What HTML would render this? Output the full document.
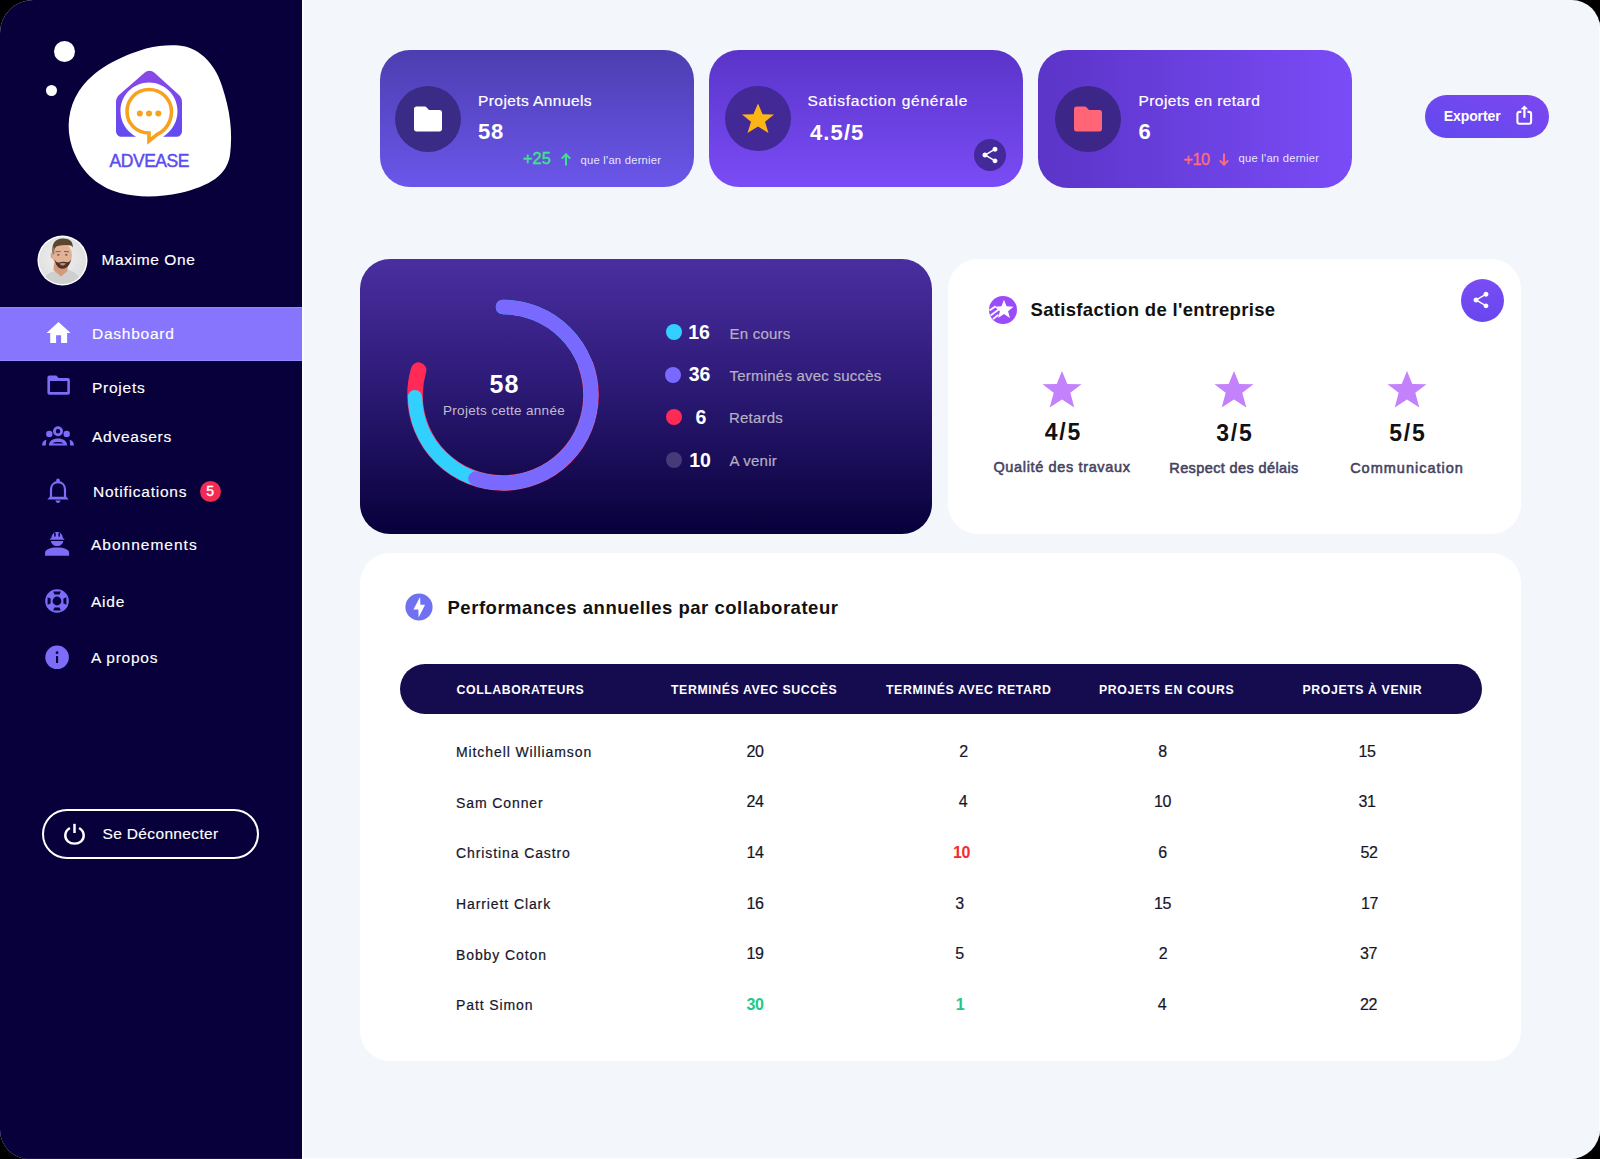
<!DOCTYPE html>
<html><head><meta charset="utf-8">
<style>
*{margin:0;padding:0;box-sizing:border-box}
html,body{width:1600px;height:1159px;background:#000;overflow:hidden}
body{font-family:"Liberation Sans",sans-serif;position:relative}
#app{position:absolute;left:0;top:0;width:1600px;height:1159px;border-radius:33px 28px 30px 29px;overflow:hidden;background:#f3f6fb}
.a{position:absolute;white-space:nowrap;line-height:1}
#side{position:absolute;left:0;top:0;width:302px;height:1159px;background:#07003a}
#sidestrip{position:absolute;left:302px;top:0;width:2px;height:1159px;background:#fbfcff}
.nav{color:#fff;font-size:15.5px;letter-spacing:0.75px;-webkit-text-stroke:0.15px #fff}
.card{position:absolute;border-radius:30px}
.ttl{color:#fff;font-size:15.5px;letter-spacing:0.42px;-webkit-text-stroke:0.2px #fff}
.num{color:#fff;font-size:22px;font-weight:bold;letter-spacing:0.8px}
.icirc{position:absolute;width:66px;height:66px;border-radius:50%;background:#3a2b86}
.lg{color:#b7b0c3;font-size:15px;letter-spacing:0.22px;-webkit-text-stroke:0.2px #b7b0c3}
.lgn{color:#fff;font-size:19.5px;font-weight:bold;text-align:center;width:40px}
.dot{position:absolute;width:16px;height:16px;border-radius:50%}
.sv{color:#111;font-size:23px;font-weight:bold;text-align:center;width:100px;letter-spacing:1.8px;text-indent:1.8px}
.sl{color:#45435f;font-size:14.5px;font-weight:normal;text-align:center;width:160px;letter-spacing:0.64px;-webkit-text-stroke:0.55px #45435f}
.th{color:#fff;font-size:12.3px;font-weight:bold;letter-spacing:0.6px}
.td{color:#16162a;font-size:14px;letter-spacing:0.9px;-webkit-text-stroke:0.2px #16162a}
.tn{color:#16162a;font-size:16px;letter-spacing:-0.3px;text-align:center;width:40px;-webkit-text-stroke:0.2px currentColor}
</style></head>
<body>
<div id="app">
  <!-- SIDEBAR -->
  <div id="side"></div>
  <div id="sidestrip"></div>
  <div class="a" style="left:304px;top:1157.5px;width:1296px;height:1.5px;background:#fdfdff"></div>
  <div class="a" style="left:1598.8px;top:0;width:1.2px;height:1159px;background:#fdfdff"></div>
  <div class="a" style="left:0;top:1158px;width:302px;height:1px;background:#1d1048"></div>

  <!-- dots -->
  <div class="a" style="left:53.5px;top:40.5px;width:21.5px;height:21.5px;border-radius:50%;background:#fff"></div>
  <div class="a" style="left:46px;top:85px;width:11.2px;height:11.2px;border-radius:50%;background:#fff"></div>
  <!-- blob -->
  <svg class="a" style="left:0;top:0" width="302" height="220" viewBox="0 0 302 220">
    <path fill="#fff" d="M179 45.5 C196 47 214 60 222 86 C230 110 233 132 230 155 C227 175 210 186 180 193 C160 197 140 198 120 193 C95 186 80 170 72 147 C66 128 68 108 79 91 C93 70 118 57 146 48.5 C158 45.5 168 45 179 45.5 Z"/>
    <defs>
      <linearGradient id="hg" x1="0" y1="0" x2="0" y2="1">
        <stop offset="0" stop-color="#8b48e6"/><stop offset="1" stop-color="#5f4cf2"/>
      </linearGradient>
    </defs>
    <!-- house -->
    <path fill="url(#hg)" d="M149.6 70.7 C147.5 70.7 146 71.5 144.5 72.8 L119 95 C117 97 116 99 116 102 L116 131 C116 134.5 118.5 136.8 122 136.8 L136 136.8 C126 131 120.5 122 120.5 111 C120.5 95 133.5 82.5 149 82.5 C164.5 82.5 177.5 95 177.5 111 C177.5 122 172 131 163 136.8 L176 136.8 C179.5 136.8 182 134.5 182 131 L182 102 C182 99 181 97 179 95 L154.5 72.8 C153 71.5 151.5 70.7 149.6 70.7 Z"/>
    <!-- bubble -->
    <path fill="none" stroke="#f7a11f" stroke-width="3.6" stroke-linejoin="miter" d="M149 89.5 C136.5 89.5 127 99.5 127 111.5 C127 123.5 136.5 133 149 133 L149 141 L157 134.5 C166 130.5 171.5 121.5 171.5 111.5 C171.5 99.5 161.5 89.5 149 89.5 Z"/>
    <circle cx="139.8" cy="113.5" r="3" fill="#f7a11f"/>
    <circle cx="149" cy="113.5" r="3" fill="#f7a11f"/>
    <circle cx="158.3" cy="113.5" r="3" fill="#f7a11f"/>
  </svg>
  <div class="a" style="left:109.5px;top:152.5px;font-size:17.5px;color:#5a4cf0;letter-spacing:-0.45px;-webkit-text-stroke:0.45px #5a4cf0">ADVEASE</div>

  <!-- avatar -->
  <svg class="a" style="left:36.5px;top:235px" width="51" height="51" viewBox="0 0 51 51">
    <defs><clipPath id="av"><circle cx="25.5" cy="25.5" r="23.6"/></clipPath>
    <radialGradient id="avbg" cx="0.45" cy="0.45" r="0.6"><stop offset="0" stop-color="#f0f0f0"/><stop offset="1" stop-color="#dcdcdc"/></radialGradient></defs>
    <circle cx="25.5" cy="25.5" r="25" fill="#fff"/>
    <g clip-path="url(#av)">
      <rect width="51" height="51" fill="url(#avbg)"/>
      <path d="M4 51 C6 43 10 38.5 16 36.5 L22 35.5 L24 40 L31 35 C37 36 43 40 46 51 Z" fill="#cfcfcf"/>
      <path d="M17 28 L31 28 L30.5 36 L24 41.5 L16.5 35 Z" fill="#d49a7b"/>
      <ellipse cx="15.8" cy="20.5" rx="2.2" ry="3.2" fill="#d9a283"/>
      <ellipse cx="25.2" cy="20.5" rx="9.8" ry="12.3" fill="#e3b294"/>
      <path d="M17.5 24 C18.5 30 21 33.5 25.5 33.8 C30 33.5 33 30 34.2 24 C33 27 31 27.5 28.5 27 C26 26.4 24 26.6 22 27.4 C20 28 18.5 26.5 17.5 24 Z" fill="#4d3525"/>
      <path d="M22.5 28.5 C24.5 27.8 27 27.8 29 28.5 C28 30 26.5 30.5 25.7 30.5 C24.7 30.5 23.3 30 22.5 28.5 Z" fill="#c98a78"/>
      <path d="M15.3 17 C14.8 8 18.5 3.8 25.5 3.5 C32 3.3 36.5 6.5 35.7 12.5 L34.5 10.8 C31 9.5 26 9.8 20.5 11 C18.5 11.8 17 14 16.6 18 Z" fill="#5a4531"/>
      <path d="M15.3 13 L17.2 12 L17.4 19 L15.6 19.5 Z" fill="#8d7b6c"/>
      <ellipse cx="21.3" cy="19.8" rx="1.3" ry="0.9" fill="#6b5a55"/><ellipse cx="29.3" cy="19.8" rx="1.3" ry="0.9" fill="#6b5a55"/>
      <path d="M18.5 16.8 L23.5 16.5 M27 16.5 L32 16.8" stroke="#7a5f4c" stroke-width="1"/>
    </g>
  </svg>
  <div class="a nav" style="left:101.5px;top:252px;letter-spacing:0.6px">Maxime One</div>

  <!-- active nav band -->
  <div class="a" style="left:0;top:306.5px;width:302px;height:54.5px;background:#8775fe;box-shadow:inset 0 1px 0 #9587ff,inset 0 -1px 0 #9587ff"></div>
  <!-- home icon -->
  <svg class="a" style="left:46px;top:321px" width="25" height="23" viewBox="0 0 25 23">
    <path fill="#fff" d="M12.5 1 L24.6 12.1 L21.1 12.1 L21.1 22 L15.1 22 L15.1 14.3 L10.1 14.3 L10.1 22 L4.2 22 L4.2 12.1 L0.6 12.1 Z"/>
  </svg>
  <div class="a nav" style="left:92px;top:326px">Dashboard</div>

  <!-- projets icon (outline folder) -->
  <svg class="a" style="left:46px;top:374px" width="26" height="22" viewBox="0 0 26 22">
    <path fill="#7c6cf7" fill-rule="evenodd" d="M1.4 3.5 Q1.4 1.5 3.4 1.5 L10.3 1.5 L12.6 4.1 L21.9 4.1 Q23.9 4.1 23.9 6.1 L23.9 18.7 Q23.9 20.7 21.9 20.7 L3.4 20.7 Q1.4 20.7 1.4 18.7 Z M4 6.9 L21.3 6.9 L21.3 17.9 L4 17.9 Z"/>
  </svg>
  <div class="a nav" style="left:92px;top:380px">Projets</div>

  <!-- adveasers icon -->
  <svg class="a" style="left:41px;top:425px" width="34" height="22" viewBox="0 0 34 22">
    <g fill="#7c6cf7">
      <circle cx="17" cy="6.2" r="3.6" fill="none" stroke="#7c6cf7" stroke-width="2.8"/>
      <circle cx="8.3" cy="8.9" r="3.2"/>
      <circle cx="25.7" cy="8.9" r="3.2"/>
      <path d="M7.9 20.6 C7.9 16 12 13.6 17 13.6 C22 13.6 26.1 16 26.1 20.6 Z"/>
      <path d="M1 20.6 C1 17.5 2.5 15.5 5.4 14.7 C5 16.5 4.9 18.5 4.9 20.6 Z"/>
      <path d="M33 20.6 C33 17.5 31.5 15.5 28.6 14.7 C29 16.5 29.1 18.5 29.1 20.6 Z"/>
    </g>
    <path d="M11.5 18.4 C13.5 16.6 20.5 16.6 22.5 18.4 Z" fill="#07003a"/>
  </svg>
  <div class="a nav" style="left:92px;top:428.5px">Adveasers</div>

  <!-- bell -->
  <svg class="a" style="left:46px;top:478px" width="24" height="26" viewBox="0 0 24 26">
    <path fill="none" stroke="#7c6cf7" stroke-width="2.2" d="M5 19.8 L5 11.5 C5 7 8 4.2 12 4.2 C16 4.2 19 7 19 11.5 L19 19.8"/>
    <path fill="#7c6cf7" d="M1.3 21.5 L22.7 21.5 L20.3 18.8 L3.7 18.8 Z"/>
    <circle cx="12" cy="2.3" r="1.8" fill="#7c6cf7"/>
    <path d="M9.6 22.6 L14.4 22.6 C14.4 24 13.4 25 12 25 C10.6 25 9.6 24 9.6 22.6 Z" fill="#7c6cf7"/>
  </svg>
  <div class="a nav" style="left:93px;top:484px">Notifications</div>
  <div class="a" style="left:199.5px;top:480.8px;width:21.5px;height:21.5px;border-radius:50%;background:#f32a51;color:#fff;font-size:14px;text-align:center;line-height:21.5px;-webkit-text-stroke:0.35px #fff">5</div>

  <!-- worker -->
  <svg class="a" style="left:44px;top:531px" width="26" height="26" viewBox="0 0 26 26">
    <g fill="#7c6cf7">
      <path d="M5.9 8.8 L5.9 7.8 C6.3 7.4 6.8 7.3 7.2 7.2 C7.6 3.6 9.6 1.6 11.8 1.1 L14.4 1.1 C16.6 1.6 18.6 3.6 19 7.2 C19.4 7.3 19.9 7.4 20.3 7.8 L20.3 8.8 Z"/>
      <path d="M7 9.9 L19.2 9.9 C19.2 12.8 16.5 14.9 13.1 14.9 C9.7 14.9 7 12.8 7 9.9 Z"/>
      <path d="M1.1 24.7 L1.1 21.8 C1.1 18.6 6 16.6 13.1 16.6 C20.2 16.6 25.1 18.6 25.1 21.8 L25.1 24.7 Z"/>
    </g>
    <g fill="#07003a">
      <rect x="10.2" y="1.8" width="1.5" height="3.8"/>
      <rect x="14.5" y="1.8" width="1.5" height="3.8"/>
    </g>
  </svg>
  <div class="a nav" style="left:91px;top:537px;letter-spacing:1px">Abonnements</div>

  <!-- lifebuoy -->
  <svg class="a" style="left:44px;top:587.5px" width="26" height="26" viewBox="0 0 26 26">
    <circle cx="13" cy="13" r="11.8" fill="#7c6cf7"/>
    <circle cx="13" cy="13" r="4.4" fill="#07003a"/>
    <g fill="#07003a">
      <path d="M9.2 3.6 L16.8 3.6 L15.6 6.6 L10.4 6.6 Z"/>
      <path d="M9.2 22.4 L16.8 22.4 L15.6 19.4 L10.4 19.4 Z"/>
      <path d="M3.6 9.2 L3.6 16.8 L6.6 15.6 L6.6 10.4 Z"/>
      <path d="M22.4 9.2 L22.4 16.8 L19.4 15.6 L19.4 10.4 Z"/>
    </g>
  </svg>
  <div class="a nav" style="left:91px;top:593.5px">Aide</div>

  <!-- info -->
  <svg class="a" style="left:44px;top:644px" width="26" height="26" viewBox="0 0 26 26">
    <circle cx="13.1" cy="13.3" r="11.8" fill="#7c6cf7"/>
    <circle cx="13.05" cy="8.7" r="1.35" fill="#07003a"/>
    <rect x="12" y="12.1" width="2.1" height="6.9" fill="#07003a"/>
  </svg>
  <div class="a nav" style="left:91px;top:649.5px">A propos</div>

  <!-- logout -->
  <div class="a" style="left:42px;top:809px;width:217px;height:50px;border:2.2px solid #fff;border-radius:25px"></div>
  <svg class="a" style="left:63px;top:821.5px" width="23" height="23" viewBox="0 0 25 25">
    <g fill="none" stroke="#fff" stroke-width="2.7" stroke-linecap="butt">
      <path d="M7.5 6.5 C4.5 8.3 2.5 11.3 2.5 14.8 C2.5 20 6.7 23.5 12.5 23.5 C18.3 23.5 22.5 20 22.5 14.8 C22.5 11.3 20.5 8.3 17.5 6.5"/>
      <path d="M12.5 2 L12.5 12"/>
    </g>
  </svg>
  <div class="a nav" style="left:102.5px;top:825.5px;letter-spacing:0.35px">Se Déconnecter</div>

  <!-- ============ TOP CARDS ============ -->
  <div class="card" style="left:380px;top:50px;width:314px;height:137px;background:linear-gradient(180deg,#4c3eb0 0%,#6b56ea 100%)"></div>
  <div class="icirc" style="left:395px;top:85.5px;background:#3a2c86"></div>
  <svg class="a" style="left:413px;top:105px" width="30" height="28" viewBox="0 0 30 28">
    <path fill="#fff" d="M3.5 1.5 L11.5 1.5 C12.5 1.5 13 1.8 13.6 2.5 L16 5 L26.5 5 C28 5 29 6 29 7.5 L29 24 C29 25.5 28 26.5 26.5 26.5 L3.5 26.5 C2 26.5 1 25.5 1 24 L1 4 C1 2.5 2 1.5 3.5 1.5 Z"/>
  </svg>
  <div class="a ttl" style="left:478px;top:93px">Projets Annuels</div>
  <div class="a num" style="left:478px;top:121px">58</div>
  <div class="a" style="left:523px;top:150px;color:#3ee38b;font-size:16.3px;letter-spacing:0.1px;-webkit-text-stroke:0.4px #3ee38b">+25</div>
  <svg class="a" style="left:559.5px;top:152.8px" width="12" height="13" viewBox="0 0 12 13">
    <path fill="none" stroke="#3ee38b" stroke-width="2" d="M6 12.5 L6 1.6 M1.8 5.6 L6 1.3 L10.2 5.6"/>
  </svg>
  <div class="a" style="left:580.5px;top:154.5px;color:#e9e6ff;font-size:11.2px;letter-spacing:0.25px">que l'an dernier</div>

  <div class="card" style="left:709px;top:50px;width:314px;height:137px;background:linear-gradient(180deg,#5a34c9 0%,#7a4cf6 100%)"></div>
  <div class="icirc" style="left:725px;top:85.5px;width:65.5px;height:65.5px;background:#432996"></div>
  <svg class="a" style="left:740px;top:102px" width="36" height="33" viewBox="0 0 36 33">
    <path fill="#fdb515" d="M18 1.5 L22.6 12.3 L34 12.6 L25 19.8 L28.5 31 L18 24.5 L7.5 31 L11 19.8 L2 12.6 L13.4 12.3 Z"/>
  </svg>
  <div class="a ttl" style="left:807.5px;top:93px;letter-spacing:0.75px">Satisfaction générale</div>
  <div class="a num" style="left:810px;top:121.5px;letter-spacing:1.1px">4.5/5</div>
  <div class="a" style="left:974px;top:139px;width:32px;height:32px;border-radius:50%;background:#44299a"></div>
  <svg class="a" style="left:980px;top:145px" width="20" height="20" viewBox="0 0 24 24">
    <path fill="#fff" d="M18 16.08c-.76 0-1.44.3-1.96.77L8.91 12.7c.05-.23.09-.46.09-.7s-.04-.47-.09-.7l7.05-4.11c.54.5 1.25.81 2.04.81 1.66 0 3-1.34 3-3s-1.34-3-3-3-3 1.34-3 3c0 .24.04.47.09.7L8.04 9.81C7.5 9.31 6.79 9 6 9c-1.66 0-3 1.34-3 3s1.34 3 3 3c.79 0 1.5-.31 2.04-.81l7.12 4.16c-.05.21-.08.43-.08.65 0 1.61 1.31 2.92 2.92 2.92 1.61 0 2.92-1.31 2.92-2.92s-1.31-2.92-2.92-2.92z"/>
  </svg>

  <div class="card" style="left:1038px;top:50px;width:314px;height:138px;background:linear-gradient(90deg,#5b34c8 0%,#7a4cf7 100%)"></div>
  <div class="icirc" style="left:1054.5px;top:85.5px;background:#3c2788"></div>
  <svg class="a" style="left:1073px;top:105px" width="30" height="28" viewBox="0 0 30 28">
    <path fill="#ff6477" d="M3.5 1.5 L11.5 1.5 C12.5 1.5 13 1.8 13.6 2.5 L16 5 L26.5 5 C28 5 29 6 29 7.5 L29 24 C29 25.5 28 26.5 26.5 26.5 L3.5 26.5 C2 26.5 1 25.5 1 24 L1 4 C1 2.5 2 1.5 3.5 1.5 Z"/>
  </svg>
  <div class="a ttl" style="left:1138.5px;top:93px">Projets en retard</div>
  <div class="a num" style="left:1138.5px;top:120.5px">6</div>
  <div class="a" style="left:1183.5px;top:151.3px;color:#ff6b7a;font-size:16.3px;letter-spacing:-0.5px;-webkit-text-stroke:0.4px #ff6b7a">+10</div>
  <svg class="a" style="left:1217.8px;top:152.5px" width="12" height="13" viewBox="0 0 12 13">
    <path fill="none" stroke="#ff6b7a" stroke-width="2" d="M6 0.4 L6 11.4 M1.8 7.4 L6 11.7 L10.2 7.4"/>
  </svg>
  <div class="a" style="left:1238.5px;top:152.5px;color:#e9e6ff;font-size:11.2px;letter-spacing:0.25px">que l'an dernier</div>

  <!-- exporter -->
  <div class="a" style="left:1424.5px;top:95px;width:124.5px;height:42.5px;border-radius:22px;background:linear-gradient(20deg,#6149ef 0%,#7d47ef 100%)"></div>
  <div class="a" style="left:1443.8px;top:109px;color:#fff;font-size:14px;font-weight:bold;letter-spacing:-0.1px">Exporter</div>
  <svg class="a" style="left:1514px;top:104px" width="20" height="22" viewBox="0 0 20 22">
    <g fill="none" stroke="#fff" stroke-width="2.1">
      <path d="M7.4 7.9 L5.4 7.9 Q3.4 7.9 3.4 9.9 L3.4 17.8 Q3.4 19.8 5.4 19.8 L15.1 19.8 Q17.1 19.8 17.1 17.8 L17.1 9.9 Q17.1 7.9 15.1 7.9 L13.5 7.9"/>
      <path d="M10.4 12.9 L10.4 4" stroke-linecap="round" stroke-width="2.2"/>
    </g>
    <path fill="#fff" d="M10.4 1.5 L6.7 5.3 L14.1 5.3 Z"/>
  </svg>

  <!-- ============ DONUT CARD ============ -->
  <div class="card" style="left:360px;top:259px;width:572px;height:275px;background:linear-gradient(180deg,#4a2ea0 0%,#2e1b78 44%,#07003a 100%)"></div>
  <svg class="a" style="left:403.2px;top:295px" width="200" height="200" viewBox="0 0 200 200">
    <g transform="rotate(-90 100 100)" fill="none" stroke-width="14.5" stroke-linecap="round">
      <circle cx="100" cy="100" r="88" stroke="#ff2a55" stroke-width="15.6" stroke-dasharray="331.8 1000" stroke-dashoffset="-107.5"/>
      <circle cx="100" cy="100" r="88" stroke="#31d0ff" stroke-dasharray="411.6 1000"/>
      <circle cx="100" cy="100" r="88" stroke="#7a69ff" stroke-dasharray="304 1000"/>
    </g>
  </svg>
  <div class="a" style="left:454px;top:372px;width:100px;text-align:center;color:#fff;font-size:25px;font-weight:bold;letter-spacing:1px;text-indent:1px">58</div>
  <div class="a" style="left:424px;top:404px;width:160px;text-align:center;color:#c3bccf;font-size:13.5px;letter-spacing:0.3px">Projets cette année</div>

  <div class="dot" style="left:665.7px;top:323.9px;background:#31d0ff"></div>
  <div class="dot" style="left:665px;top:366.5px;background:#7a69ff"></div>
  <div class="dot" style="left:665.7px;top:409px;background:#ff2a55"></div>
  <div class="dot" style="left:665.7px;top:452px;background:#473a78"></div>
  <div class="a lgn" style="left:679px;top:322.5px">16</div>
  <div class="a lgn" style="left:679.5px;top:365px">36</div>
  <div class="a lgn" style="left:681px;top:407.5px">6</div>
  <div class="a lgn" style="left:680px;top:450.5px">10</div>
  <div class="a lg" style="left:729.5px;top:325.5px">En cours</div>
  <div class="a lg" style="left:729.5px;top:367.5px">Terminés avec succès</div>
  <div class="a lg" style="left:729px;top:410px">Retards</div>
  <div class="a lg" style="left:729.5px;top:453px">A venir</div>

  <!-- ============ SATISFACTION CARD ============ -->
  <div class="card" style="left:948px;top:259px;width:573px;height:275px;background:#fff"></div>
  <svg class="a" style="left:988px;top:295px" width="30" height="30" viewBox="0 0 30 30">
    <circle cx="15" cy="15" r="14" fill="#9a4bfa"/>
    <path fill="#fff" d="M16.00 4.80 L18.53 11.32 L25.51 11.71 L20.09 16.13 L21.88 22.89 L16.00 19.10 L10.12 22.89 L11.91 16.13 L6.49 11.71 L13.47 11.32 Z"/>
    <g stroke="#fff" stroke-width="1.7" stroke-linecap="butt"><path d="M1.5 15.5 L7.5 11.3"/><path d="M2.5 20.5 L10.5 14.8"/><path d="M5 24 L10.5 19.8"/></g>
  </svg>
  <div class="a" style="left:1030.5px;top:300.5px;color:#111;font-size:18.5px;font-weight:bold;letter-spacing:0.33px">Satisfaction de l'entreprise</div>
  <div class="a" style="left:1460.5px;top:278.5px;width:43px;height:43px;border-radius:50%;background:linear-gradient(180deg,#7a4cf4 0%,#6846ee 100%)"></div>
  <svg class="a" style="left:1468.8px;top:288px" width="24" height="24" viewBox="0 0 24 24">
    <path fill="#fff" transform="translate(12 12) scale(0.83) translate(-12 -12)" d="M18 16.08c-.76 0-1.44.3-1.96.77L8.91 12.7c.05-.23.09-.46.09-.7s-.04-.47-.09-.7l7.05-4.11c.54.5 1.25.81 2.04.81 1.66 0 3-1.34 3-3s-1.34-3-3-3-3 1.34-3 3c0 .24.04.47.09.7L8.04 9.81C7.5 9.31 6.79 9 6 9c-1.66 0-3 1.34-3 3s1.34 3 3 3c.79 0 1.5-.31 2.04-.81l7.12 4.16c-.05.21-.08.43-.08.65 0 1.61 1.31 2.92 2.92 2.92 1.61 0 2.92-1.31 2.92-2.92s-1.31-2.92-2.92-2.92z"/>
  </svg>
  <!-- stars -->
  <svg class="a" style="left:1041px;top:370px" width="42" height="39" viewBox="0 0 42 39"><path fill="#c382fb" d="M21 1 L26.3 14 L40.5 14.2 L29.3 22.8 L33.3 37.5 L21 29.5 L8.7 37.5 L12.7 22.8 L1.5 14.2 L15.7 14 Z"/></svg>
  <svg class="a" style="left:1213px;top:370px" width="42" height="39" viewBox="0 0 42 39"><path fill="#c382fb" d="M21 1 L26.3 14 L40.5 14.2 L29.3 22.8 L33.3 37.5 L21 29.5 L8.7 37.5 L12.7 22.8 L1.5 14.2 L15.7 14 Z"/></svg>
  <svg class="a" style="left:1386px;top:370px" width="42" height="39" viewBox="0 0 42 39"><path fill="#c382fb" d="M21 1 L26.3 14 L40.5 14.2 L29.3 22.8 L33.3 37.5 L21 29.5 L8.7 37.5 L12.7 22.8 L1.5 14.2 L15.7 14 Z"/></svg>
  <div class="a sv" style="left:1012.5px;top:421px">4/5</div>
  <div class="a sv" style="left:1184px;top:421.5px">3/5</div>
  <div class="a sv" style="left:1357px;top:421.5px">5/5</div>
  <div class="a sl" style="left:982px;top:460px">Qualité des travaux</div>
  <div class="a sl" style="left:1154px;top:461px;letter-spacing:0.38px">Respect des délais</div>
  <div class="a sl" style="left:1327px;top:460.5px;letter-spacing:1px">Communication</div>

  <!-- ============ PERFORMANCE CARD ============ -->
  <div class="card" style="left:360px;top:553px;width:1161px;height:508px;background:#fff"></div>
  <svg class="a" style="left:405px;top:593px" width="28" height="28" viewBox="0 0 28 28">
    <circle cx="14" cy="14" r="13.6" fill="#7070f2"/>
    <path fill="#fff" d="M15.1 3.9 L15.4 11.7 L20.1 11.7 L13.6 24.6 L13.4 16.5 L8.4 16.4 Z"/>
  </svg>
  <div class="a" style="left:447.5px;top:598.7px;color:#111;font-size:18.5px;font-weight:bold;letter-spacing:0.52px">Performances annuelles par collaborateur</div>

  <div class="a" style="left:399.5px;top:664px;width:1082.5px;height:50px;border-radius:25px;background:#150c50"></div>
  <div class="a th" style="left:456.5px;top:684px">COLLABORATEURS</div>
  <div class="a th" style="left:671px;top:684px">TERMINÉS AVEC SUCCÈS</div>
  <div class="a th" style="left:886px;top:684px">TERMINÉS AVEC RETARD</div>
  <div class="a th" style="left:1099px;top:684px">PROJETS EN COURS</div>
  <div class="a th" style="left:1302.5px;top:684px">PROJETS À VENIR</div>

  <!-- rows -->
  <div class="a td" style="left:456px;top:745px">Mitchell Williamson</div>
  <div class="a td" style="left:456px;top:795.5px">Sam Conner</div>
  <div class="a td" style="left:456px;top:846px">Christina Castro</div>
  <div class="a td" style="left:456px;top:897px">Harriett Clark</div>
  <div class="a td" style="left:456px;top:947.5px">Bobby Coton</div>
  <div class="a td" style="left:456px;top:998px">Patt Simon</div>

  <div class="a tn" style="left:735px;top:743.7px">20</div>
  <div class="a tn" style="left:735px;top:794.2px">24</div>
  <div class="a tn" style="left:735px;top:844.7px">14</div>
  <div class="a tn" style="left:735px;top:895.7px">16</div>
  <div class="a tn" style="left:735px;top:946.2px">19</div>
  <div class="a tn" style="left:735px;top:996.7px;color:#22c887;font-weight:bold;-webkit-text-stroke:0">30</div>

  <div class="a tn" style="left:943.5px;top:743.7px">2</div>
  <div class="a tn" style="left:943px;top:794.2px">4</div>
  <div class="a tn" style="left:941.5px;top:844.7px;color:#f52a2a;font-weight:bold;-webkit-text-stroke:0">10</div>
  <div class="a tn" style="left:939.5px;top:895.7px">3</div>
  <div class="a tn" style="left:939.5px;top:946.2px">5</div>
  <div class="a tn" style="left:940px;top:996.7px;color:#22c887;font-weight:bold;-webkit-text-stroke:0">1</div>

  <div class="a tn" style="left:1142.5px;top:743.7px">8</div>
  <div class="a tn" style="left:1142.5px;top:794.2px">10</div>
  <div class="a tn" style="left:1142.5px;top:844.7px">6</div>
  <div class="a tn" style="left:1142.5px;top:895.7px">15</div>
  <div class="a tn" style="left:1143px;top:946.2px">2</div>
  <div class="a tn" style="left:1142px;top:996.7px">4</div>

  <div class="a tn" style="left:1347px;top:743.7px">15</div>
  <div class="a tn" style="left:1347px;top:794.2px">31</div>
  <div class="a tn" style="left:1349px;top:844.7px">52</div>
  <div class="a tn" style="left:1349.5px;top:895.7px">17</div>
  <div class="a tn" style="left:1348.5px;top:946.2px">37</div>
  <div class="a tn" style="left:1348.5px;top:996.7px">22</div>
</div>
</body></html>
